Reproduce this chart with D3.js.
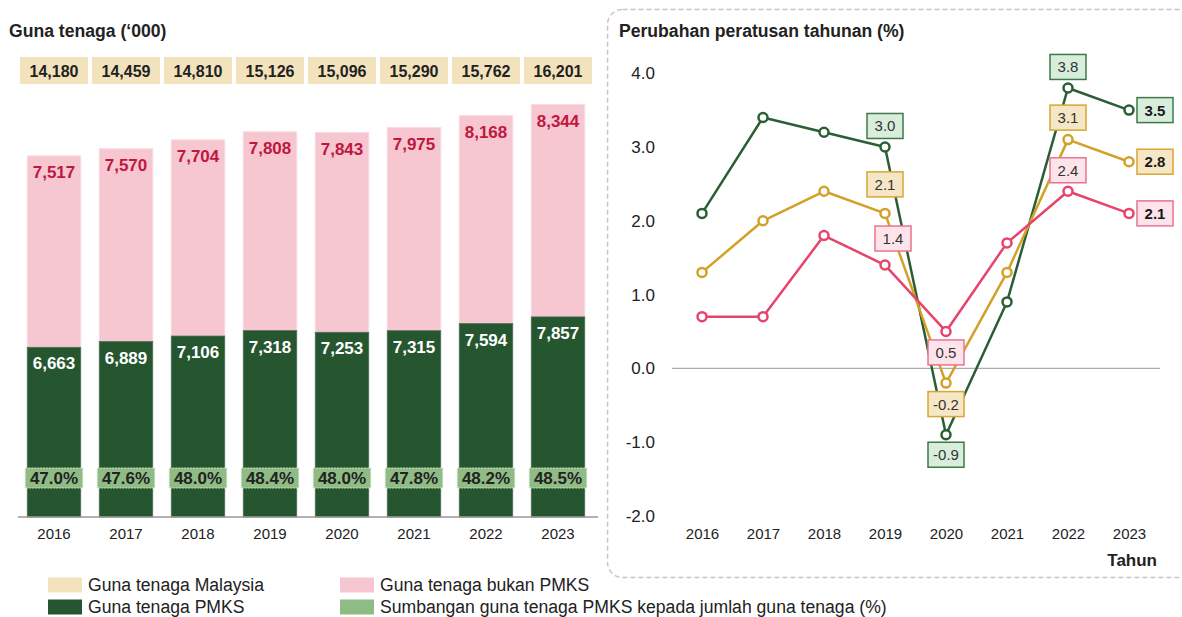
<!DOCTYPE html>
<html>
<head>
<meta charset="utf-8">
<script src="https://cdn.jsdelivr.net/npm/d3@7"></script>
<style>
  html, body { margin: 0; padding: 0; background: #fff; }
  svg { display: block; font-family: "Liberation Sans", Arial, Helvetica, sans-serif; }
</style>
</head>
<body>
<svg id="chart" width="1182" height="617"></svg>
<script>
// ---------- DATA ----------
const years = ["2016", "2017", "2018", "2019", "2020", "2021", "2022", "2023"];
const totalMalaysia = [14180, 14459, 14810, 15126, 15096, 15290, 15762, 16201];
const pmksEmployment = [6663, 6889, 7106, 7318, 7253, 7315, 7594, 7857];
const nonPmksEmployment = [7517, 7570, 7704, 7808, 7843, 7975, 8168, 8344];
const pmksShare = [47.0, 47.6, 48.0, 48.4, 48.0, 47.8, 48.2, 48.5];

const growthMalaysia = [1.3, 2.0, 2.4, 2.1, -0.2, 1.3, 3.1, 2.8];
const growthPmks = [2.1, 3.4, 3.2, 3.0, -0.9, 0.9, 3.8, 3.5];
const growthNonPmks = [0.7, 0.7, 1.8, 1.4, 0.5, 1.7, 2.4, 2.1];
const growthTicks = [-2, -1, 0, 1, 2, 3, 4];

const leftTitle = "Guna tenaga (‘000)";
const rightTitle = "Perubahan peratusan tahunan (%)";
const xTitle = "Tahun";
const legendLabels = ["Guna tenaga Malaysia", "Guna tenaga bukan PMKS", "Guna tenaga PMKS",
  "Sumbangan guna tenaga PMKS kepada jumlah guna tenaga (%)"];

// ---------- STYLE ----------
const C = {
  total: "#f3e3bd", pink: "#f6c6d1", green: "#25562f", share: "#8fbb85",
  pinkText: "#c0173f", text: "#222",
  lineGreen: "#2a5e34", lineGold: "#d4a128", linePink: "#e8436b"
};
const FONT_B = "bold";

const svg = d3.select("#chart");
const fmt = d3.format(",");
const fmt1 = v => v.toFixed(1); // hyphen-minus like the reference

// ---------- LEFT: stacked bars ----------
const x = d3.scaleBand().domain(years).range([18, 594]).paddingInner(0.257).paddingOuter(0.1285);
const y = d3.scaleLinear().domain([0, 16000]).range([517, 109.5]);

svg.append("text").attr("x", 9).attr("y", 31).attr("dominant-baseline", "central")
  .attr("font-size", 17.6).attr("font-weight", FONT_B).attr("fill", "#222").text(leftTitle);

const gL = svg.append("g");
const rows = years.map((yr, i) => ({ yr, total: totalMalaysia[i], pmks: pmksEmployment[i], non: nonPmksEmployment[i], share: pmksShare[i] }));

// totals row
gL.selectAll(".tot").data(rows).join("rect")
  .attr("x", d => x(d.yr) + x.bandwidth() / 2 - 34).attr("y", 57)
  .attr("width", 68).attr("height", 27).attr("fill", C.total);
gL.selectAll(".totT").data(rows).join("text")
  .attr("x", d => x(d.yr) + x.bandwidth() / 2).attr("y", 71)
  .attr("text-anchor", "middle").attr("dominant-baseline", "central")
  .attr("font-size", 16).attr("font-weight", FONT_B).attr("fill", "#222")
  .text(d => fmt(d.total));

// pink (non-PMKS) segment
gL.selectAll(".pinkBar").data(rows).join("rect")
  .attr("x", d => x(d.yr)).attr("y", d => y(d.total))
  .attr("width", x.bandwidth()).attr("height", d => y(d.pmks) - y(d.total))
  .attr("fill", C.pink).attr("stroke", "#fadbe2").attr("stroke-width", 1);
// green (PMKS) segment
gL.selectAll(".greenBar").data(rows).join("rect")
  .attr("x", d => x(d.yr)).attr("y", d => y(d.pmks))
  .attr("width", x.bandwidth()).attr("height", d => y(0) - y(d.pmks))
  .attr("fill", C.green).attr("stroke", "#4f6f55").attr("stroke-width", 0.8);

gL.selectAll(".pinkT").data(rows).join("text")
  .attr("x", d => x(d.yr) + x.bandwidth() / 2).attr("y", d => y(d.total) + 17)
  .attr("text-anchor", "middle").attr("dominant-baseline", "central")
  .attr("font-size", 17).attr("font-weight", FONT_B).attr("fill", C.pinkText)
  .text(d => fmt(d.non));
gL.selectAll(".greenT").data(rows).join("text")
  .attr("x", d => x(d.yr) + x.bandwidth() / 2).attr("y", d => y(d.pmks) + 16.5)
  .attr("text-anchor", "middle").attr("dominant-baseline", "central")
  .attr("font-size", 17).attr("font-weight", FONT_B).attr("fill", "#fff")
  .text(d => fmt(d.pmks));

// share boxes
gL.selectAll(".shareB").data(rows).join("rect")
  .attr("x", d => x(d.yr) - 2).attr("y", 468)
  .attr("width", x.bandwidth() + 4).attr("height", 20)
  .attr("fill", C.share).attr("stroke", "#cfe5c9").attr("stroke-width", 1).attr("stroke-dasharray", "2,1");
gL.selectAll(".shareT").data(rows).join("text")
  .attr("x", d => x(d.yr) + x.bandwidth() / 2).attr("y", 478.5)
  .attr("text-anchor", "middle").attr("dominant-baseline", "central")
  .attr("font-size", 17).attr("font-weight", FONT_B).attr("fill", "#222")
  .text(d => d.share.toFixed(1) + "%");

// x axis
const axL = svg.append("g").attr("transform", "translate(0,517)")
  .call(d3.axisBottom(x).tickSize(0).tickPadding(11));
axL.select(".domain").attr("d", "M0,0H580").attr("transform", "translate(18,0)").attr("stroke", "#999").attr("stroke-width", 1.5);
axL.selectAll("text").attr("font-size", 15).attr("fill", "#222").attr("font-family", null);

// ---------- RIGHT: lines ----------
svg.append("rect").attr("x", 607.5).attr("y", 9.5).attr("width", 640).attr("height", 568)
  .attr("rx", 15).attr("fill", "none").attr("stroke", "#c8c8c8").attr("stroke-width", 1.5)
  .attr("stroke-dasharray", "5,3");

svg.append("text").attr("x", 619).attr("y", 31).attr("dominant-baseline", "central")
  .attr("font-size", 17.6).attr("font-weight", FONT_B).attr("fill", "#222").text(rightTitle);

const xr = d3.scalePoint().domain(years).range([702, 1129]);
const yr = d3.scaleLinear().domain([-2, 4]).range([515.9, 73.2]);

const axY = svg.append("g").attr("transform", "translate(655,0)")
  .call(d3.axisLeft(yr).tickValues(growthTicks).tickFormat(fmt1).tickSize(0).tickPadding(0));
axY.select(".domain").remove();
axY.selectAll("text").attr("font-size", 17).attr("fill", "#222").attr("font-family", null);

svg.append("line").attr("x1", 672).attr("x2", 1160).attr("y1", yr(0)).attr("y2", yr(0))
  .attr("stroke", "#aaa").attr("stroke-width", 1.2);

const axX = svg.append("g").attr("transform", "translate(0,517)")
  .call(d3.axisBottom(xr).tickSize(0).tickPadding(11));
axX.select(".domain").remove();
axX.selectAll("text").attr("font-size", 15).attr("fill", "#222").attr("font-family", null);

svg.append("text").attr("x", 1157).attr("y", 560).attr("text-anchor", "end").attr("dominant-baseline", "central")
  .attr("font-size", 17).attr("font-weight", FONT_B).attr("fill", "#222").text(xTitle);

const series = [
  { key: "pmks", values: growthPmks, color: C.lineGreen, boxFill: "#d8eddb", boxStroke: "#3d7a48" },
  { key: "malaysia", values: growthMalaysia, color: C.lineGold, boxFill: "#f5e6c5", boxStroke: "#d8a733" },
  { key: "non", values: growthNonPmks, color: C.linePink, boxFill: "#fde4ea", boxStroke: "#ea7390" }
];

const line = d3.line().x((d, i) => xr(years[i])).y(d => yr(d));
series.forEach(s => {
  svg.append("path").attr("d", line(s.values)).attr("fill", "none")
    .attr("stroke", s.color).attr("stroke-width", 2.5).attr("stroke-linejoin", "round");
});
series.forEach(s => {
  svg.append("g").selectAll("circle").data(s.values).join("circle")
    .attr("cx", (d, i) => xr(years[i])).attr("cy", d => yr(d)).attr("r", 4.5)
    .attr("fill", "#fff").attr("stroke", s.color).attr("stroke-width", 2.5);
});

// label placement (pixel offsets from the point)
const placement = {
  pmks:     { "2019": [0, -21], "2020": [0, 20], "2022": [0, -21], "2023": [26, 0] },
  malaysia: { "2019": [0, -29], "2020": [0, 21], "2022": [0, -22], "2023": [26, 0] },
  non:      { "2019": [8, -26.5], "2020": [0, 21], "2022": [0, -21], "2023": [26, 0] }
};
series.forEach(s => {
  const pl = placement[s.key];
  Object.keys(pl).forEach(yrKey => {
    const i = years.indexOf(yrKey);
    const v = s.values[i];
    const cx = xr(yrKey) + pl[yrKey][0], cy = yr(v) + pl[yrKey][1];
    const bold = yrKey === "2023";
    svg.append("rect").attr("x", cx - 18).attr("y", cy - 12.5).attr("width", 36).attr("height", 25)
      .attr("fill", s.boxFill).attr("stroke", s.boxStroke).attr("stroke-width", 1.5);
    svg.append("text").attr("x", cx).attr("y", cy).attr("text-anchor", "middle").attr("dominant-baseline", "central")
      .attr("font-size", 15).attr("font-weight", bold ? "bold" : "normal").attr("fill", bold ? "#1a1a1a" : "#333")
      .text(fmt1(v));
  });
});

// ---------- LEGEND ----------
const legendItems = [
  { label: legendLabels[0], color: C.total, x: 48, y: 585 },
  { label: legendLabels[1], color: C.pink, x: 340, y: 585 },
  { label: legendLabels[2], color: C.green, x: 48, y: 607 },
  { label: legendLabels[3], color: C.share, x: 340, y: 607 }
];
const lg = svg.append("g");
legendItems.forEach(it => {
  lg.append("rect").attr("x", it.x).attr("y", it.y - 7.5).attr("width", 34).attr("height", 15).attr("fill", it.color);
  lg.append("text").attr("x", it.x + 40).attr("y", it.y).attr("dominant-baseline", "central")
    .attr("font-size", 17.6).attr("fill", "#222").text(it.label);
});
</script>
</body>
</html>
